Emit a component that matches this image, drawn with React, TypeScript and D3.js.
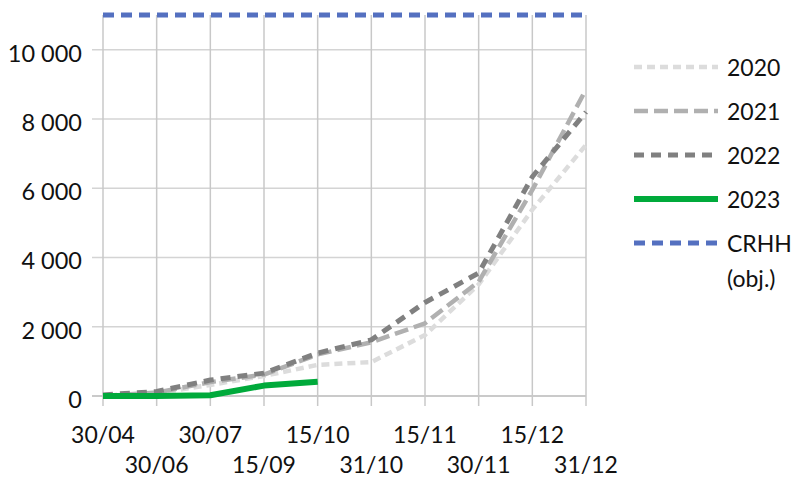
import React from "react";
import * as d3 from "d3";

const categories = ["30/04", "30/06", "30/07", "15/09", "15/10", "31/10", "15/11", "30/11", "15/12", "31/12"];
const s2020 = [0, 80, 320, 580, 900, 980, 1760, 3220, 5380, 7250];
const s2021 = [0, 100, 400, 620, 1200, 1550, 2100, 3300, 5950, 8850];
const s2022 = [30, 130, 460, 660, 1240, 1620, 2700, 3550, 6330, 8200];
const s2023 = [0, 0, 20, 300, 410];
const crhh = 11000;
const yTicks = [0, 2000, 4000, 6000, 8000, 10000];

const seriesList = [
  { name: "2020", values: s2020, color: "#dcdcdc", dash: "8 5", width: 4.5 },
  { name: "2021", values: s2021, color: "#b0b0b0", dash: "14 6", width: 4.5 },
  { name: "2022", values: s2022, color: "#808080", dash: "10 7", width: 5 },
  { name: "2023", values: s2023, color: "#00aa3b", dash: "", width: 6 },
];

export default function App() {
  const W = 801, H = 477;
  const left = 103, right = 586, top = 15, bottom = 396;
  const x = d3.scalePoint<string>().domain(categories).range([left, right]);
  const y = d3.scaleLinear().domain([0, 11000]).range([bottom, top]);
  const line = d3
    .line<number>()
    .x((_, i) => x(categories[i]) as number)
    .y((d) => y(d));
  const font = "Lato, 'Open Sans', sans-serif";
  const fmt = (v: number) => d3.format(",")(v).replace(/,/g, " ");
  const legendItems = [
    ...seriesList.map((s) => ({ name: s.name, color: s.color, dash: s.dash, width: s.width })),
    { name: "CRHH", color: "#5470c0", dash: "11 7", width: 5 },
  ];
  return (
    <svg width={W} height={H} style={{ position: "absolute", left: 0, top: 0, background: "#fff" }} fontFamily={font}>
      <rect x={0} y={0} width={W} height={H} fill="#fff" />
      {/* horizontal grid */}
      {yTicks.map((t) => (
        <g key={t}>
          <line x1={92} x2={right} y1={y(t)} y2={y(t)} stroke={t === 0 ? "#b8b8b8" : "#d4d4d4"} strokeWidth={1.5} />
          <text x={82} y={y(t) + 12} textAnchor="end" fontSize={23.5} fill="#111">
            {fmt(t)}
          </text>
        </g>
      ))}
      {/* vertical grid */}
      {categories.map((c, i) => (
        <g key={c}>
          <line x1={x(c)} x2={x(c)} y1={top} y2={406} stroke="#c8c8c8" strokeWidth={1.5} />
          <text x={x(c)} y={i % 2 === 0 ? 443 : 473} textAnchor="middle" fontSize={23} fill="#111">
            {c}
          </text>
        </g>
      ))}
      {/* series */}
      {seriesList.map((s) => (
        <path
          key={s.name}
          d={line(s.values) || ""}
          fill="none"
          stroke={s.color}
          strokeWidth={s.width}
          strokeDasharray={s.dash || undefined}
          strokeLinejoin="round"
        />
      ))}
      <line x1={left} x2={right} y1={y(crhh)} y2={y(crhh)} stroke="#5470c0" strokeWidth={5} strokeDasharray="11 7" />
      {/* legend */}
      {legendItems.map((it, i) => {
        const ly = 67 + i * 44;
        return (
          <g key={it.name}>
            <line x1={634} x2={718} y1={ly} y2={ly} stroke={it.color} strokeWidth={it.width} strokeDasharray={it.dash || undefined} />
            <text x={727} y={ly + 9} fontSize={23} fill="#111">
              {it.name}
            </text>
          </g>
        );
      })}
      <text x={727} y={287} fontSize={23} fill="#111">
        (obj.)
      </text>
    </svg>
  );
}
